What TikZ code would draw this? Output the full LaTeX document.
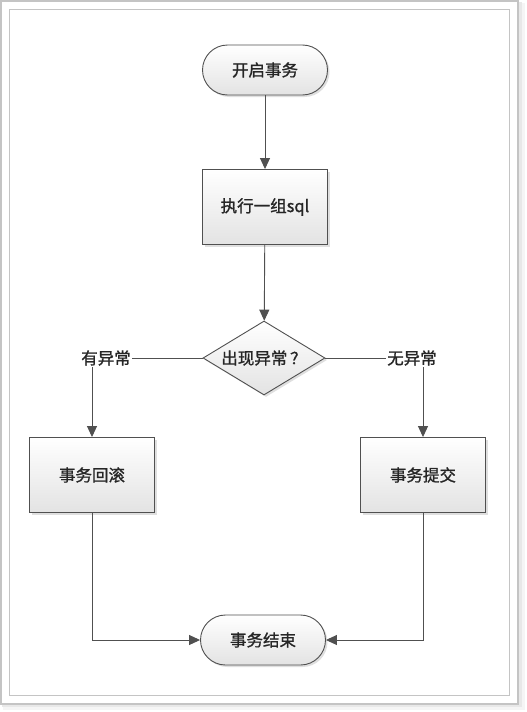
\documentclass[tikz,border=0pt]{standalone}
\usepackage{fontspec}
\newfontfamily\cjk[FakeBold=1.2]{Noto Sans CJK SC}
\usetikzlibrary{shapes.geometric,shadows,arrows.meta}
\definecolor{lineGray}{HTML}{505050}
\definecolor{frameGray}{HTML}{C4C4C4}
\tikzset{
  flowbox/.style={draw=lineGray, line width=.9pt, top color=white, bottom color=black!11,
    drop shadow={shadow xshift=2pt, shadow yshift=-2pt, opacity=.25},
    font=\cjk\fontsize{16.5}{18}\selectfont, text=black!85},
  procbox/.style={flowbox, rectangle, minimum width=125pt, minimum height=75pt},
  termbox/.style={flowbox, rectangle, rounded corners=25pt, minimum width=125pt, minimum height=50pt},
  decbox/.style={flowbox, diamond, aspect=1.65, inner sep=0pt, minimum width=122pt, minimum height=74pt},
  lbl/.style={font=\cjk\fontsize{16.5}{18}\selectfont, inner sep=1pt, text=black!85},
  link/.style={draw=lineGray, line width=.9pt},
  flow/.style={link, -{Triangle[length=11pt,width=10pt]}}
}
\begin{document}
\begin{tikzpicture}[x=1pt, y=-1pt]
\useasboundingbox (0,0) rectangle (527,712);
% page frame
\fill[black!4] (3,3) rectangle (525,710);
\fill[black!9] (2,2) rectangle (522,707);
\filldraw[fill=white, draw=frameGray, line width=1.5pt] (1,1) rectangle (518,704);
\draw[frameGray, line width=1pt] (9,9) rectangle (509,695);
% nodes
\node[termbox] (begin) at (265,70) {开启事务};
\node[procbox] (runsql) at (265,207) {执行一组sql};
\node[decbox] (check) at (264,358) {出现异常\,？};
\node[lbl] (hasErr) at (106,358) {有异常};
\node[lbl] (noErr) at (412,358) {无异常};
\node[procbox] (rollback) at (92,475) {事务回滚};
\node[procbox] (commit) at (423,475) {事务提交};
\node[termbox] (finish) at (263,640) {事务结束};
% connectors
\draw[flow] (begin) -- (runsql);
\draw[flow] (runsql) -- (check);
\draw[link] (check.west) -- (hasErr.east);
\draw[link] (check.east) -- (noErr.west);
\draw[flow] (hasErr.south -| rollback.north) -- (rollback.north);
\draw[flow] (noErr.south -| commit.north) -- (commit.north);
\draw[flow] (rollback.south) |- (finish.west);
\draw[flow] (commit.south) |- (finish.east);
\end{tikzpicture}
\end{document}
